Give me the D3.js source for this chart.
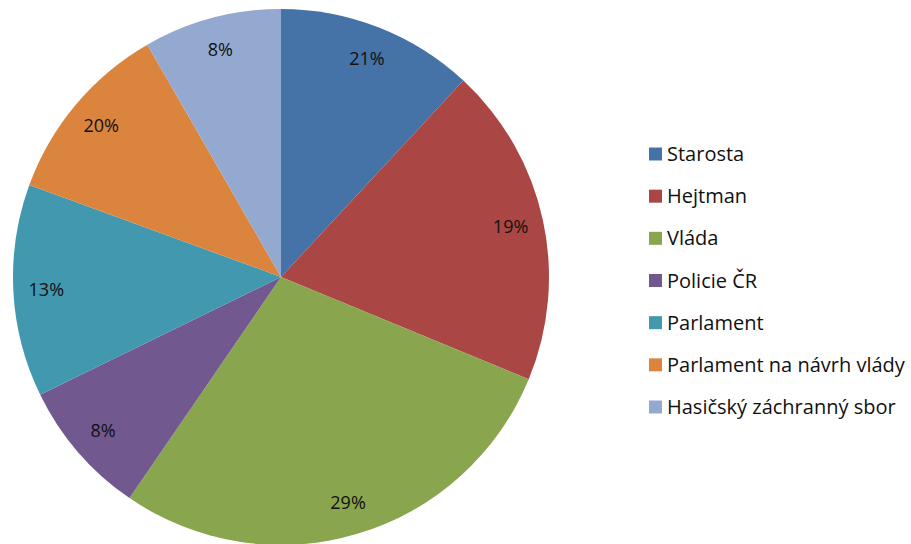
<!DOCTYPE html>
<html>
<head>
<meta charset="utf-8">
<script src="https://cdn.jsdelivr.net/npm/d3@7"></script>
<style>
  body { margin: 0; background: #fff; }
  svg { display: block; }
</style>
</head>
<body>
<div id="chart"></div>
<script>
// slice sizes (share of the circle)
const categories = ['Starosta', 'Hejtman', 'Vláda', 'Policie ČR', 'Parlament', 'Parlament na návrh vlády', 'Hasičský záchranný sbor'];
const values = [11.9, 19.3, 28.3, 8.2, 12.8, 11.1, 8.3];
// labels as printed on the chart
const labels = ['21%', '19%', '29%', '8%', '13%', '20%', '8%'];
const colors = ['#4572A7', '#AA4643', '#89A54E', '#71588F', '#4198AF', '#DB843D', '#93A9CF'];

window.onload = () => {
    let width = 911, height = 544;
    let cx = 281, cy = 277, r = 268;

    let svg = d3.select('#chart').append('svg').attr('width', width).attr('height', height);

    let data = categories.map((c, i) => ({ name: c, value: values[i], label: labels[i], color: colors[i] }));

    let pie = d3.pie().value(d => d.value).sort(null);
    let arc = d3.arc().innerRadius(0).outerRadius(r);
    let labelArc = d3.arc().innerRadius(235).outerRadius(235);

    let g = svg.append('g').attr('transform', `translate(${cx},${cy})`);
    let arcs = pie(data);

    g.selectAll('path').data(arcs).enter().append('path')
        .attr('d', arc)
        .attr('fill', d => d.data.color);

    g.selectAll('text').data(arcs).enter().append('text')
        .attr('transform', d => `translate(${labelArc.centroid(d)})`)
        .attr('text-anchor', 'middle')
        .attr('dy', '0.35em')
        .attr('font-family', 'Open Sans, sans-serif')
        .attr('font-size', '18px')
        .attr('fill', '#111')
        .text(d => d.data.label);

    // legend
    let legend = svg.append('g').attr('transform', 'translate(649,154)');
    let rowY = d3.scalePoint().domain(categories).range([0, 253]);

    let rows = legend.selectAll('g').data(data).enter().append('g')
        .attr('transform', d => `translate(0,${rowY(d.name)})`);

    rows.append('rect')
        .attr('x', 0).attr('y', -6.5)
        .attr('width', 13).attr('height', 13)
        .attr('fill', d => d.color);

    rows.append('text')
        .attr('x', 18)
        .attr('dy', '0.35em')
        .attr('font-family', 'Open Sans, sans-serif')
        .attr('font-size', '20px')
        .attr('fill', '#111')
        .text(d => d.name);
};
</script>
</body>
</html>
